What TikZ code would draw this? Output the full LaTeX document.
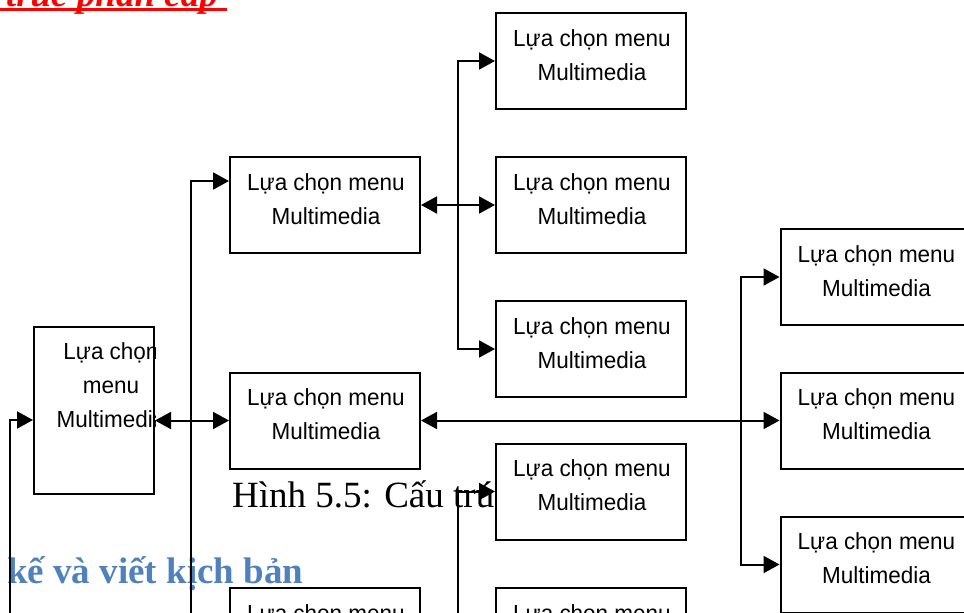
\documentclass[tikz,border=0pt]{standalone}
\usepackage{fontspec}
\setmainfont{Liberation Serif}
\newfontfamily\boxfont[FakeStretch=0.965]{Liberation Sans}
\usetikzlibrary{arrows.meta}
\definecolor{headblue}{HTML}{4F81BD}
\begin{document}
\begin{tikzpicture}[x=1pt,y=-1pt,
  menubox/.style={draw,line width=2pt,fill=white,minimum width=190pt,minimum height=96pt,inner sep=0pt},
  menutext/.style={font=\boxfont\fontsize{23.3}{34}\selectfont,align=center,inner sep=0pt},
  bodytext/.style={font=\fontsize{37}{44}\selectfont,inner sep=0pt,anchor=base west},
  link/.style={line width=2pt},
  arr/.style={link,-{Triangle[length=16pt,width=17pt]}},
  dblarr/.style={link,{Triangle[length=16pt,width=17pt]}-{Triangle[length=16pt,width=17pt]}}]
\clip (0,0) rectangle (964,613);

% page text lying behind the chart
\node[bodytext,anchor=base east,font=\bfseries\itshape\fontsize{37}{44}\selectfont,text=red] (title) at (218,6) {Cấu trúc phân cấp};
\draw[red,line width=3pt] (0,9.5) -- (227,9.5);
\node[bodytext] (caption) at (232,507) {Hình 5.5: Cấu trúc};
\node[bodytext,font=\bfseries\fontsize{37}{44}\selectfont,text=headblue] (heading) at (7,583) {kế và viết kịch bản};

% boxes
\node[menubox,minimum width=120pt,minimum height=167pt] (L) at (94,410.5) {};
\node[menubox] (B1) at (325,205) {};
\node[menubox] (B2) at (325,420.5) {};
\node[menubox] (B3) at (325,636) {};
\node[menubox] (C1) at (591,61) {};
\node[menubox] (C2) at (591,205) {};
\node[menubox] (C3) at (591,349) {};
\node[menubox] (C4) at (591,491.5) {};
\node[menubox] (C5) at (591,636) {};
\node[menubox] (D1) at (875.5,277) {};
\node[menubox] (D2) at (875.5,420.5) {};
\node[menubox] (D3) at (875.5,564.5) {};

\foreach \b in {B1,B2,B3,C1,C2,C3,C4,C5,D1,D2,D3}
  \node[menutext] (t\b) at ([xshift=1pt,yshift=6pt]\b.center) {Lựa chọn menu\\Multimedia};

\begin{scope}
  \clip (L.north west) rectangle (L.south east);
  \node[menutext] (tL) at (111,385.5) {Lựa chọn\\menu\\Multimedia};
\end{scope}

% connectors
\coordinate (trunkA) at (10,640);
\coordinate (trunkB) at (191,640);
\coordinate (trunkC) at (458,640);
\coordinate (jC) at (458,205);
\coordinate (jD) at (741,420.5);

\draw[arr] (trunkA) |- ([yshift=-9.5pt]L.west);
\draw[dblarr] ([yshift=-10pt]L.east) -- (B2.west);
\draw[arr] (trunkB) |- ([yshift=24pt]B1.west);
\draw[dblarr] (B1.east) -- (C2.west);
\draw[arr] (jC) |- (C1.west);
\draw[arr] (jC) |- (C3.west);
\draw[arr] (trunkC) |- (C4.west);
\draw[dblarr] (B2.east) -- (D2.west);
\draw[arr] (jD) |- (D1.west);
\draw[arr] (jD) |- (D3.west);
\end{tikzpicture}
\end{document}
